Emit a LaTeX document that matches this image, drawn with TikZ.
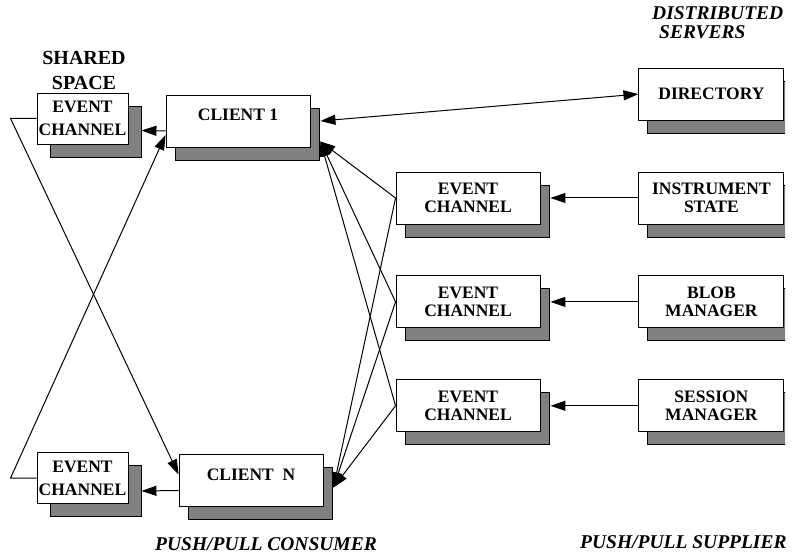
\documentclass[tikz,border=0pt]{standalone}
\usepackage{fontspec}
\setmainfont{Liberation Serif}
\usepackage{xcolor}
\usepackage{tikz}
\usetikzlibrary{positioning,shadows,arrows.meta}
\definecolor{Shade}{RGB}{128, 128, 128}
\definecolor{Ink}{RGB}{0, 0, 0}

\begin{document}
\begin{tikzpicture}[
    x=1pt, y=-1pt,
    plain/.style={rectangle, draw=Ink, fill=white, line width=0.9pt, align=center,
                  inner sep=1pt, font=\fontsize{17.5}{18}\selectfont\bfseries},
    box/.style={plain, minimum width=144pt, minimum height=52pt,
                general shadow={fill=Shade, draw=Ink, line width=0.9pt, shadow xshift=9pt, shadow yshift=-13pt}},
    chanbox/.style={plain, minimum width=91pt, minimum height=51pt, font=\fontsize{17.5}{23}\selectfont\bfseries,
                    general shadow={fill=Shade, draw=Ink, line width=0.9pt, shadow xshift=13pt, shadow yshift=-13pt}},
    server/.style={box, minimum width=145pt},
    client/.style={box, text depth=12pt},
    title/.style={inner sep=0pt, align=left, font=\fontsize{19.5}{19}\selectfont\bfseries\itshape},
    arr/.style={->, line width=1pt, Ink, >={Triangle[length=15pt, width=10pt]}},
]
\useasboundingbox (0,0) rectangle (795,556);

% shared space
\node[inner sep=0pt, anchor=north, align=center, font=\fontsize{20}{25}\selectfont\bfseries] (shared) at (84,51) {SHARED\\SPACE};
\node[chanbox] (sl) at (82.5,118.5) {EVENT\\CHANNEL};
\node[chanbox] (sb) at (82.5,478) {EVENT\\CHANNEL};

% consumers
\node[client] (c1) at (238,121) {CLIENT 1};
\node[client] (cn) at (251,480.5) {CLIENT\ \ N};

% channels
\node[box] (ec1) at (468,198) {EVENT\\CHANNEL};
\node[box, below=51pt of ec1] (ec2) {EVENT\\CHANNEL};
\node[box, below=51pt of ec2] (ec3) {EVENT\\CHANNEL};

% suppliers, shadows cut at the edge
\begin{scope}
\clip (0,0) rectangle (785,556);
\node[server, right=98pt of ec1] (ins) {INSTRUMENT\\STATE};
\node[server, above=51pt of ins] (dir) {DIRECTORY};
\node[server, right=98pt of ec2] (blob) {BLOB\\MANAGER};
\node[server, right=98pt of ec3] (sess) {SESSION\\MANAGER};
\end{scope}

\node[title, anchor=north west] (servers) at (652,6) {DISTRIBUTED\\\hspace*{7pt}SERVERS};
\node[title, anchor=north] (consumer) at (266,537) {PUSH/PULL CONSUMER};
\node[title, anchor=north west] (supplier) at (580,535) {PUSH/PULL SUPPLIER};

\coordinate (c1in) at ([xshift=10pt, yshift=6pt]c1.south east);
\coordinate (cnin) at ([xshift=10pt, yshift=-7pt]cn.east);

\draw[arr, <->] ([xshift=10pt]c1.east) -- (dir.west);
\draw[arr] (ins.west) -- ([xshift=10pt]ec1.east);
\draw[arr] (blob.west) -- ([xshift=10pt]ec2.east);
\draw[arr] (sess.west) -- ([xshift=10pt]ec3.east);

\draw[arr] (ec1.west) -- (c1in);
\draw[arr] (ec2.west) -- (c1in);
\draw[arr] (ec3.west) -- (c1in);
\draw[arr] (ec1.west) -- (cnin);
\draw[arr] (ec2.west) -- (cnin);
\draw[arr] (ec3.west) -- (cnin);

\draw[arr] ([yshift=-10pt]c1.west) -- ([xshift=13pt, yshift=-12pt]sl.east);
\draw[arr] ([yshift=-10pt]cn.west) -- ([xshift=13pt, yshift=-13pt]sb.east);
\draw[arr] (sl.west) -- ++(-26,0) -- ([yshift=6pt]cn.west);
\draw[arr] (sb.west) -- ++(-26,0) -- ([yshift=-14pt]c1.west);
\end{tikzpicture}
\end{document}
